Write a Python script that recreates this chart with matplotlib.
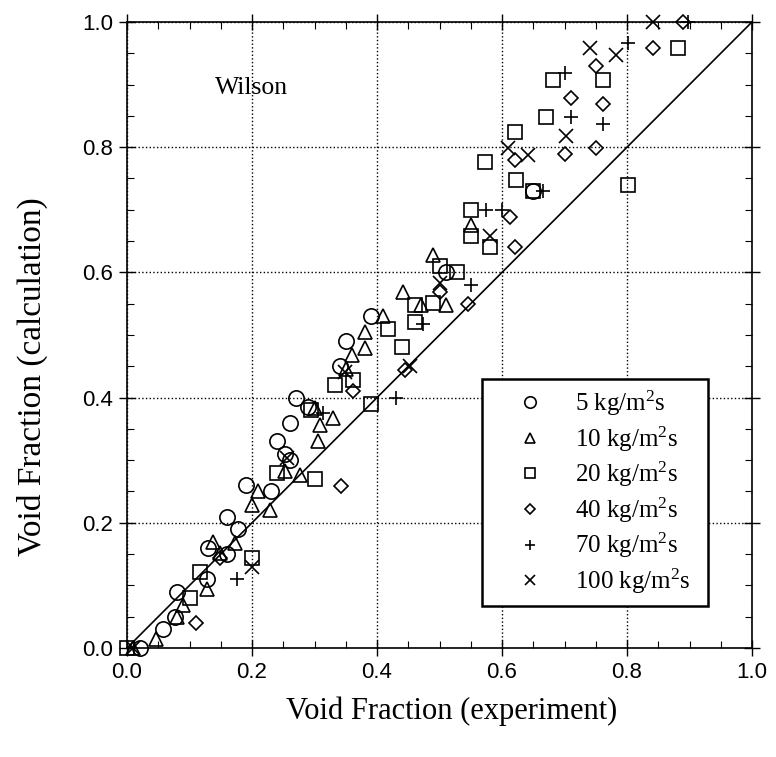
import numpy as np
import matplotlib
matplotlib.use("Agg")
import matplotlib.pyplot as plt
from matplotlib.ticker import MultipleLocator, FormatStrFormatter

# misure di frazione di vuoto: sperimentale (x) contro correlazione di Wilson (y)
x5 = [0.02, 0.058, 0.077, 0.08, 0.128, 0.13, 0.16, 0.16, 0.178, 0.19, 0.23, 0.24,
      0.253, 0.26, 0.26, 0.27, 0.29, 0.34, 0.35, 0.39, 0.51, 0.65]
y5 = [0.00, 0.03, 0.05, 0.09, 0.11, 0.16, 0.15, 0.21, 0.19, 0.26, 0.25, 0.33,
      0.31, 0.30, 0.36, 0.40, 0.385, 0.45, 0.49, 0.53, 0.60, 0.73]

x10 = [0.01, 0.047, 0.08, 0.09, 0.128, 0.138, 0.149, 0.173, 0.20, 0.21, 0.229, 0.253,
       0.277, 0.30, 0.306, 0.309, 0.33, 0.35, 0.36, 0.381, 0.381, 0.41, 0.442, 0.471,
       0.49, 0.51, 0.551]
y10 = [0.00, 0.014, 0.049, 0.069, 0.095, 0.17, 0.151, 0.167, 0.228, 0.25, 0.22, 0.282,
       0.276, 0.383, 0.33, 0.356, 0.367, 0.445, 0.468, 0.479, 0.505, 0.53, 0.569, 0.548,
       0.628, 0.548, 0.676]

x20 = [0.00, 0.10, 0.117, 0.20, 0.24, 0.30, 0.295, 0.333, 0.361, 0.391, 0.418, 0.44,
       0.461, 0.461, 0.49, 0.50, 0.528, 0.551, 0.551, 0.573, 0.58, 0.622, 0.62, 0.65,
       0.671, 0.682, 0.761, 0.802, 0.882]
y20 = [0.00, 0.08, 0.122, 0.143, 0.28, 0.27, 0.38, 0.42, 0.428, 0.39, 0.51, 0.48,
       0.52, 0.548, 0.551, 0.61, 0.60, 0.658, 0.70, 0.777, 0.641, 0.748, 0.825, 0.73,
       0.848, 0.908, 0.908, 0.74, 0.958]

x40 = [0.11, 0.149, 0.342, 0.361, 0.445, 0.50, 0.546, 0.612, 0.621, 0.62, 0.70, 0.711,
       0.751, 0.762, 0.751, 0.842, 0.89]
y40 = [0.04, 0.144, 0.259, 0.41, 0.444, 0.569, 0.55, 0.689, 0.64, 0.78, 0.789, 0.878,
       0.798, 0.869, 0.929, 0.958, 1.00]

x70 = [0.176, 0.314, 0.43, 0.474, 0.55, 0.574, 0.60, 0.665, 0.70, 0.711, 0.762, 0.802, 0.897]
y70 = [0.11, 0.375, 0.40, 0.518, 0.58, 0.70, 0.70, 0.73, 0.918, 0.848, 0.837, 0.966, 1.00]

x100 = [0.01, 0.20, 0.256, 0.349, 0.452, 0.50, 0.58, 0.61, 0.642, 0.702, 0.741, 0.782, 0.842]
y100 = [0.00, 0.13, 0.303, 0.441, 0.45, 0.583, 0.658, 0.798, 0.788, 0.818, 0.958, 0.947, 1.00]

portate = ["5", "10", "20", "40", "70", "100"]
marcatori = ["o", "^", "s", "D", "+", "x"]
dimensioni = [11.0, 10.0, 9.5, 7.0, 10.5, 10.0]

plt.rcParams['mathtext.default'] = 'regular'
serif = 'Liberation Serif'

fig = plt.figure(figsize=(7.76, 7.57), dpi=100)
ax = fig.add_axes([0.1637, 0.144, 0.8054, 0.827])

serie = [(x5, y5), (x10, y10), (x20, y20), (x40, y40), (x70, y70), (x100, y100)]
for (xs, ys), g, m, ms in zip(serie, portate, marcatori, dimensioni):
    ax.plot(xs, ys, linestyle='none', marker=m, markersize=ms, mfc='none',
            mec='black', mew=1.2, label=g + r' kg/m$^2$s', clip_on=False, zorder=3)

# retta di perfetto accordo
ax.plot([0, 1], [0, 1], color='black', lw=1.2, zorder=2)

ax.set_xlim(0, 1)
ax.set_ylim(0, 1)
ax.xaxis.set_major_locator(MultipleLocator(0.2))
ax.yaxis.set_major_locator(MultipleLocator(0.2))
ax.xaxis.set_minor_locator(MultipleLocator(0.05))
ax.yaxis.set_minor_locator(MultipleLocator(0.05))
ax.xaxis.set_major_formatter(FormatStrFormatter('%.1f'))
ax.yaxis.set_major_formatter(FormatStrFormatter('%.1f'))
ax.tick_params(which='major', direction='inout', length=12, width=1.0,
               top=True, right=True, labelsize=16, pad=4,
               labelfontfamily='Liberation Sans')
ax.tick_params(which='minor', direction='in', length=5, width=0.8, top=True, right=True)

ax.grid(True, which='major', color='black', linestyle=':', linewidth=1.0)
for s in ax.spines.values():
    s.set_linewidth(1.2)

ax.set_xlabel('Void Fraction (experiment)', family=serif, fontsize=22)
ax.set_ylabel('Void Fraction (calculation)', family=serif, fontsize=24)
ax.xaxis.set_label_coords(0.519, -0.078)
ax.yaxis.set_label_coords(-0.127, 0.433)

ax.text(0.141, 0.895, 'Wilson', family=serif, fontsize=18.5, va='center', ha='left')

# riquadro della legenda a larghezza fissa
leg = ax.legend(loc='upper left', bbox_to_anchor=(0.568, 0.067, 0.362, 0.363),
                mode='expand', borderaxespad=0,
                prop={'family': serif, 'size': 18}, markerscale=0.75,
                handlelength=3.0, handletextpad=0.3, borderpad=0.4,
                labelspacing=0.25, fancybox=False, framealpha=1)
leg.get_frame().set_edgecolor('black')
leg.get_frame().set_linewidth(1.8)

fig.savefig('out.png', dpi=100)
